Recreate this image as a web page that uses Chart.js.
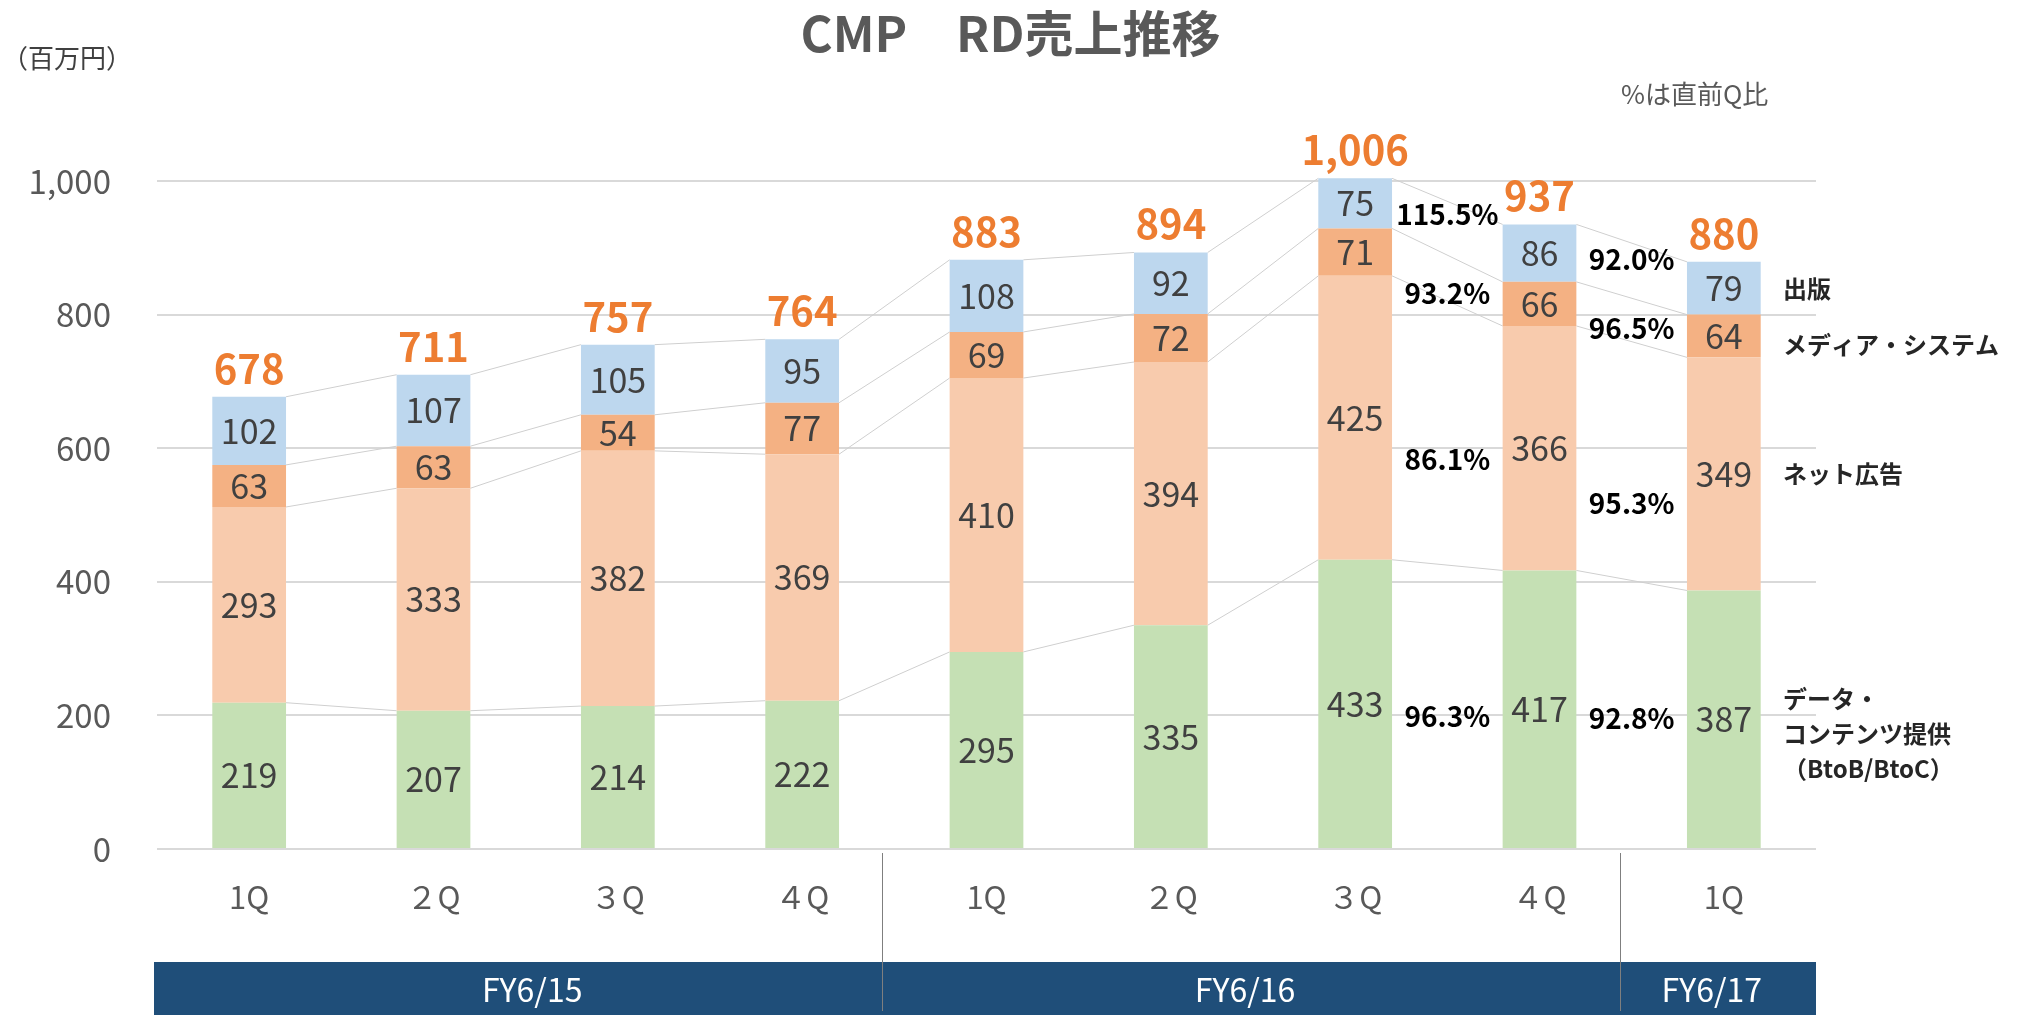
<!DOCTYPE html>
<html lang="ja">
<head>
<meta charset="utf-8">
<title>CMP RD売上推移</title>
<script src="https://cdn.jsdelivr.net/npm/chart.js@4.4.1/dist/chart.umd.min.js"></script>
<style>
    html, body { margin: 0; padding: 0; background: #fff; }
    #wrap { width: 2017px; height: 1015px; position: relative; }
</style>
</head>
<body>
<div id="wrap"><canvas id="salesChart"></canvas></div>
<script>
const quarters = ['1Q', '２Q', '３Q', '４Q', '1Q', '２Q', '３Q', '４Q', '1Q'];
const fiscalYears = ['FY6/15', 'FY6/16', 'FY6/17'];
const fyQuarterCounts = [4, 4, 1];

// stacked from the bottom up
const dataContent = [219, 207, 214, 222, 295, 335, 433, 417, 387];
const netAds = [293, 333, 382, 369, 410, 394, 425, 366, 349];
const mediaSystem = [63, 63, 54, 77, 69, 72, 71, 66, 64];
const publishing = [102, 107, 105, 95, 108, 92, 75, 86, 79];
const totals = [678, 711, 757, 764, 883, 894, 1006, 937, 880];

// quarter-on-quarter ratios, same series order as above
const qoq3Qto4Q = ['96.3%', '86.1%', '93.2%', '115.5%'];
const qoq4Qto1Q = ['92.8%', '95.3%', '96.5%', '92.0%'];

const seriesNames = [
    ['データ・', 'コンテンツ提供', '（BtoB/BtoC）'],
    ['ネット広告'],
    ['メディア・システム'],
    ['出版']
];

const FONT = "'Noto Sans CJK JP', 'Noto Sans', sans-serif";
Chart.defaults.font.family = FONT;

const overlay = {
    id: 'overlay',
    beforeDatasetsDraw(chart) {
        const { ctx } = chart;
        ctx.save();
        ctx.strokeStyle = '#CFCFCF';
        ctx.lineWidth = 1;
        chart.data.datasets.forEach((d, di) => {
            const bars = chart.getDatasetMeta(di).data;
            for (let i = 0; i < bars.length - 1; i++) {
                const a = bars[i], b = bars[i + 1];
                ctx.beginPath();
                ctx.moveTo(a.x + a.width / 2, a.y);
                ctx.lineTo(b.x - b.width / 2, b.y);
                ctx.stroke();
            }
        });
        ctx.restore();
    },
    afterDatasetsDraw(chart, args, opts) {
        const { ctx, chartArea: area, scales: { y } } = chart;
        const metas = chart.data.datasets.map((d, i) => chart.getDatasetMeta(i));
        ctx.save();
        ctx.textAlign = 'center';

        // values inside the segments
        ctx.fillStyle = '#404040';
        ctx.font = `34px ${FONT}`;
        ctx.textBaseline = 'middle';
        metas.forEach((meta, di) => {
            meta.data.forEach((bar, i) => {
                ctx.fillText(chart.data.datasets[di].data[i], bar.x, (bar.y + bar.base) / 2);
            });
        });

        // totals
        const top = metas[metas.length - 1].data;
        ctx.fillStyle = '#ED7D31';
        ctx.font = `bold 40px ${FONT}`;
        ctx.textBaseline = 'alphabetic';
        top.forEach((bar, i) => {
            ctx.fillText(totals[i].toLocaleString('en-US'), bar.x, bar.y - 13);
        });

        // qoq ratios between the last bars
        ctx.fillStyle = '#000';
        ctx.font = `bold 28px ${FONT}`;
        ctx.textBaseline = 'middle';
        const b = metas[0].data;
        const colA = (b[6].x + b[7].x) / 2, colB = (b[7].x + b[8].x) / 2;
        qoq3Qto4Q.forEach((t, i) => ctx.fillText(t, colA, y.getPixelForValue(opts.ratioAtA[i])));
        qoq4Qto1Q.forEach((t, i) => ctx.fillText(t, colB, y.getPixelForValue(opts.ratioAtB[i])));

        // series names on the right
        ctx.fillStyle = '#262626';
        ctx.font = `bold 24px ${FONT}`;
        ctx.textAlign = 'left';
        seriesNames.forEach((lines, i) => {
            const cy = y.getPixelForValue(opts.nameAt[i]);
            lines.forEach((line, j) => {
                ctx.fillText(line, area.right - 33, cy + (j - (lines.length - 1) / 2) * 35);
            });
        });

        // title and notes
        ctx.fillStyle = '#595959';
        ctx.textAlign = 'center';
        ctx.font = `bold 49px ${FONT}`;
        ctx.fillText('CMP　RD売上推移', chart.width / 2 + 2, 33);
        ctx.textAlign = 'left';
        ctx.font = `26px ${FONT}`;
        ctx.fillStyle = '#404040';
        ctx.fillText('（百万円）', 2, 58);
        ctx.fillStyle = '#595959';
        ctx.fillText('%は直前Q比', 1621, 94);

        // fiscal year band
        const bandTop = 962, bandBottom = chart.height;
        const bandLeft = area.left - 3;
        ctx.fillStyle = '#1F4E79';
        ctx.fillRect(bandLeft, bandTop, area.right - bandLeft, bandBottom - bandTop);

        const edges = [bandLeft];
        let idx = 0;
        fyQuarterCounts.forEach((n, k) => {
            idx += n;
            if (k < fyQuarterCounts.length - 1) edges.push((b[idx - 1].x + b[idx].x) / 2 - 12);
        });
        edges.push(area.right);

        ctx.strokeStyle = '#7F7F7F';
        ctx.lineWidth = 1;
        edges.slice(1, -1).forEach(ex => {
            ctx.beginPath();
            ctx.moveTo(Math.round(ex) + 0.5, area.bottom + 4);
            ctx.lineTo(Math.round(ex) + 0.5, bandBottom - 4);
            ctx.stroke();
        });

        ctx.fillStyle = '#fff';
        ctx.font = `32px ${FONT}`;
        ctx.textAlign = 'center';
        fiscalYears.forEach((fy, k) => {
            ctx.fillText(fy, (edges[k] + edges[k + 1]) / 2 + (k === 0 ? 14 : -6), (bandTop + bandBottom) / 2 + 1);
        });
        ctx.restore();
    }
};

new Chart(document.getElementById('salesChart'), {
    type: 'bar',
    data: {
        labels: quarters,
        datasets: [
            { label: 'データ・コンテンツ提供', data: dataContent, backgroundColor: '#C5E0B4' },
            { label: 'ネット広告', data: netAds, backgroundColor: '#F8CBAD' },
            { label: 'メディア・システム', data: mediaSystem, backgroundColor: '#F4B183' },
            { label: '出版', data: publishing, backgroundColor: '#BDD7EE' }
        ].map(d => Object.assign(d, { barPercentage: 0.4, categoryPercentage: 1, clip: false }))
    },
    options: {
        responsive: true,
        maintainAspectRatio: false,
        animation: false,
        layout: { padding: { top: 181, right: 201, left: 0, bottom: 0 } },
        plugins: {
            legend: { display: false },
            tooltip: { enabled: false },
            overlay: {
                ratioAtA: [198, 584, 832, 950],
                ratioAtB: [195, 518, 780, 882],
                nameAt: [173, 561, 755, 838]
            }
        },
        scales: {
            x: {
                stacked: true,
                grid: { display: false, drawTicks: false },
                border: { display: false },
                ticks: { color: '#595959', font: { size: 31 }, padding: 30, maxRotation: 0 },
                afterFit: s => { s.height = 166; }
            },
            y: {
                stacked: true,
                min: 0,
                max: 1000,
                grid: { color: '#D9D9D9', lineWidth: 2, drawTicks: false },
                border: { display: false },
                ticks: {
                    stepSize: 200,
                    color: '#595959',
                    font: { size: 33 },
                    padding: 46,
                    callback: v => v.toLocaleString('en-US')
                },
                afterFit: s => { s.width = 157; }
            }
        }
    },
    plugins: [overlay]
});
</script>
</body>
</html>
